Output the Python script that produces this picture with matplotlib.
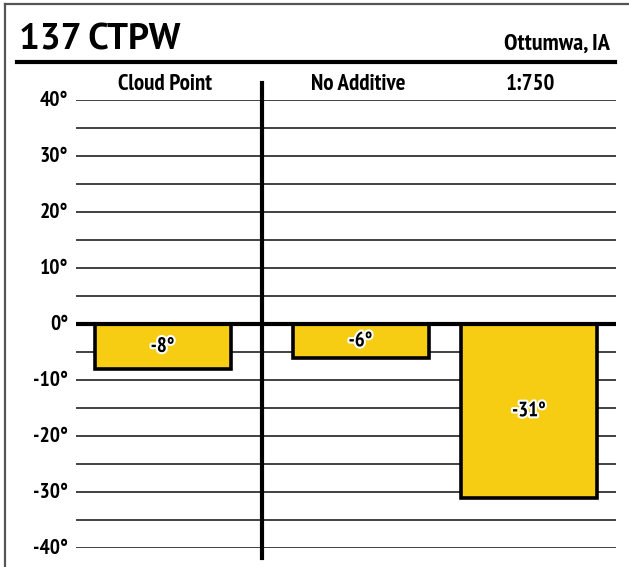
import matplotlib
matplotlib.use('Agg')
import matplotlib.pyplot as plt
import matplotlib.patheffects as pe
from matplotlib.lines import Line2D

# data
categories = ['Cloud Point', 'No Additive', '1:750']
values = [-8, -6, -31]
bar_labels = ['-8°', '-6°', '-31°']
yticks = [40, 30, 20, 10, 0, -10, -20, -30, -40]
title = '137 CTPW'
location = 'Ottumwa, IA'

# layout (pixel units along x)
bar_x = [162.5, 360.5, 529]
head_x = [165, 358, 530]
bar_w = 136

narrow = ['PT Sans Narrow', 'DejaVu Sans']
wide = ['PT Sans', 'DejaVu Sans']

W, H = 629, 567
fig = plt.figure(figsize=(W / 100, H / 100), dpi=100)

# pixel -> fig coords helpers
def fx(px):
    return px / W

def fy(py):
    return 1 - py / H

ax = fig.add_axes([fx(76), fy(548), (616 - 76) / W, (548 - 100) / H])
ax.set_xlim(76, 616)
ax.set_ylim(-40, 40)
ax.axis('off')

for v in range(-40, 41, 5):
    if v == 0:
        continue
    ax.axhline(v, color='#333333', lw=1.3, zorder=1)

ax.bar(bar_x, values, width=bar_w, color='#F6CD12', edgecolor='black',
       linewidth=2.6, zorder=3)

# zero line and divider
ax.axhline(0, color='black', lw=3, zorder=4)
ax.plot([262, 262], [43, -41.8], color='black', lw=3, clip_on=False, zorder=5)

for x, v, lab in zip(bar_x, values, bar_labels):
    ax.text(x, v / 2, lab, ha='center', va='center', fontsize=15,
            fontweight='bold', family=narrow, zorder=6,
            path_effects=[pe.withStroke(linewidth=3, foreground='white')])

for t in yticks:
    ax.text(68, t, f'{t}°', ha='right', va='center', fontsize=15.5,
            fontweight='bold', family=narrow, clip_on=False)

for x, c in zip(head_x, categories):
    fig.text(fx(x), fy(84), c, ha='center', va='center', fontsize=16.5,
             fontweight='bold', family=narrow)

fig.text(fx(19), fy(50), title, ha='left', va='baseline', fontsize=26.5,
         fontweight='bold', family=wide)
fig.text(fx(610), fy(50), location, ha='right', va='baseline', fontsize=17.5,
         fontweight='bold', family=narrow)

# rule under the title
fig.add_artist(Line2D([fx(17), fx(615)], [fy(62), fy(62)], color='black', lw=3))

# gray frame (left and top)
fig.add_artist(Line2D([fx(5), fx(5)], [fy(4), 0], color='#555555', lw=1.6))
fig.add_artist(Line2D([fx(5), 1], [fy(4), fy(4)], color='#555555', lw=1.6))

fig.savefig('out.png', dpi=100)
